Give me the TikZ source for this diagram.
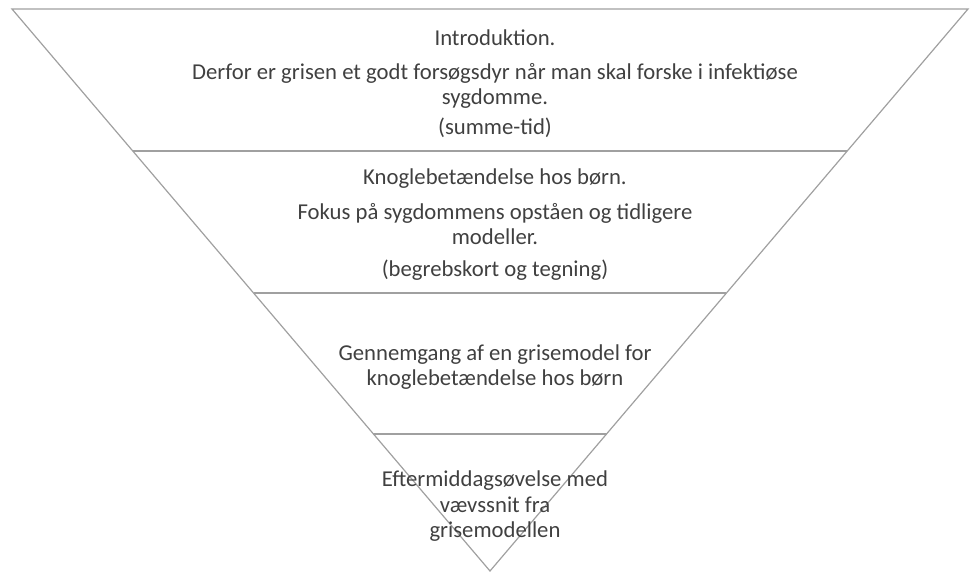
\documentclass[tikz,border=0pt]{standalone}
\usepackage{fontspec}
\setmainfont{Carlito}
\usetikzlibrary{calc}

\definecolor{edgegray}{RGB}{160,160,160}
\definecolor{textgray}{RGB}{64,64,64}

\begin{document}
\begin{tikzpicture}[x=1pt,y=-1pt]
\tikzstyle{edge} = [draw=edgegray, line width=1.2pt]
\tikzstyle{band} = [text=textgray, align=center, inner sep=0pt, anchor=base,
font=\fontsize{22.7}{25.5}\selectfont]
\useasboundingbox (0,0) rectangle (970,571);
% corners of the funnel
\coordinate (tl) at (12,9);
\coordinate (tr) at (968,9);
\coordinate (tip) at (490,571);
\path[edge] (tl) -- (tr) -- (tip) -- cycle;
% dividing lines
\foreach \y/\name in {151/one,293/two,434/three} {
  \coordinate (\name l) at ($(tl)!{(\y-9)/562}!(tip)$);
  \coordinate (\name r) at ($(tr)!{(\y-9)/562}!(tip)$);
  \path[edge] (\name l) -- (\name r);
}
% band 1 (base = last line)
\node [band] (intro) at (495,134.5) {Introduktion.\\[8.5pt]
Derfor er grisen et godt forsøgsdyr når man skal forske i infektiøse\\
sygdomme.\\[4.5pt]
(summe-tid)};
% band 2
\node [band] (knogle) at (495,276.5) {Knoglebetændelse hos børn.\\[9.5pt]
Fokus på sygdommens opståen og tidligere\\
modeller.\\[6.5pt]
(begrebskort og tegning)};
% band 3
\node [band] (gennemgang) at (495,385.5) {Gennemgang af en grisemodel for\\
knoglebetændelse hos børn};
% band 4
\node [band] (eftermiddag) at (495,537.5) {Eftermiddagsøvelse med\\
vævssnit fra\\
grisemodellen};
\end{tikzpicture}
\end{document}
